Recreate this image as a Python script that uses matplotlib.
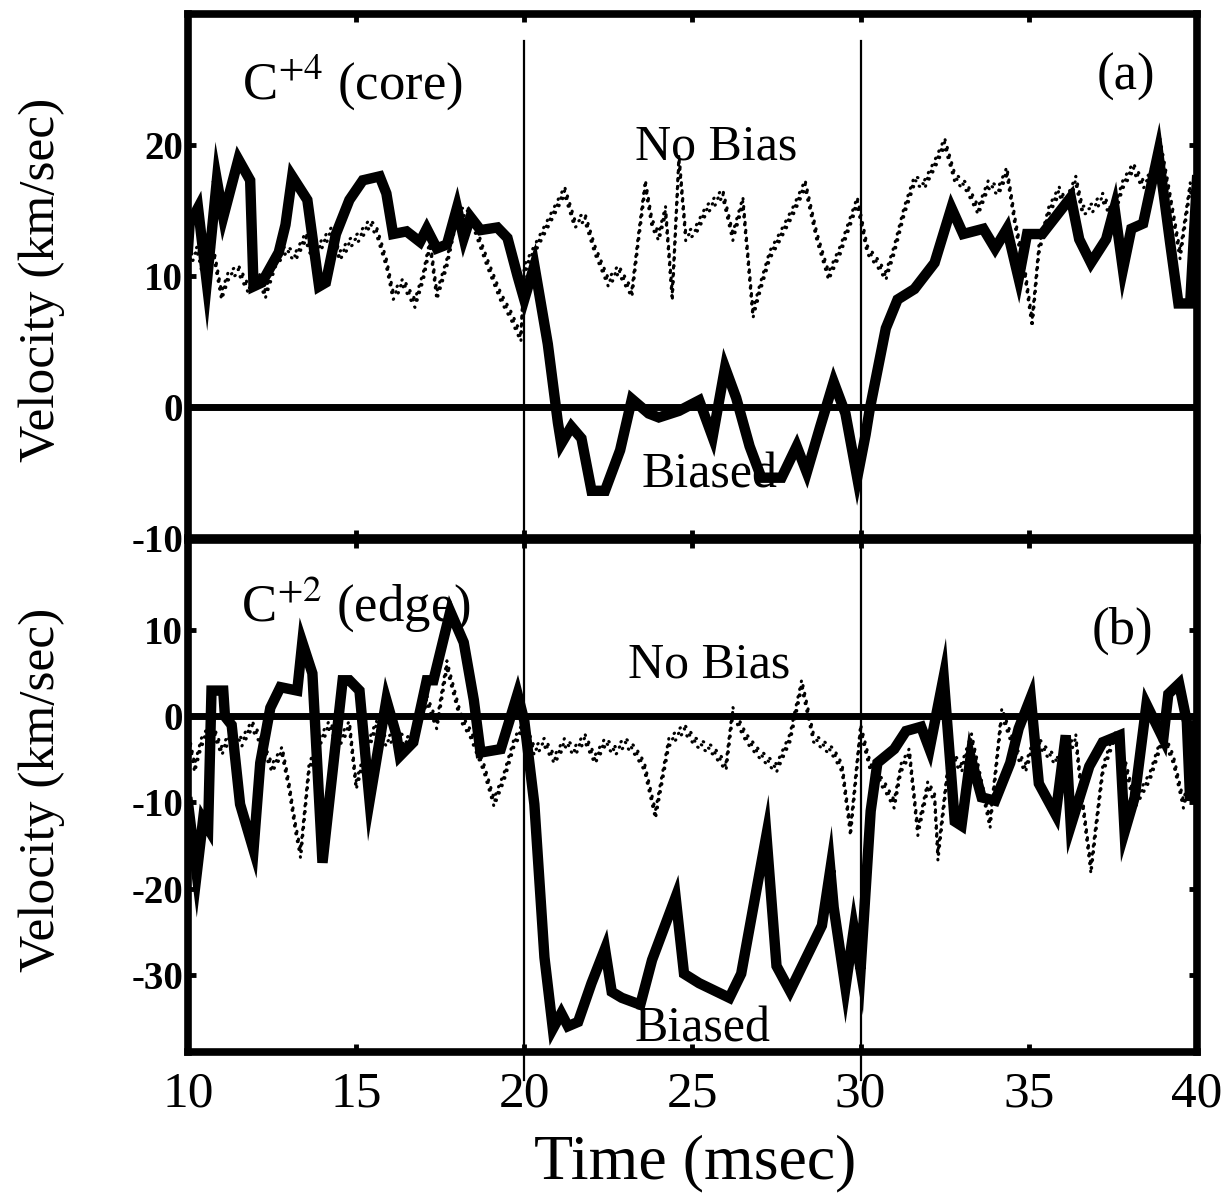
import matplotlib
matplotlib.use("Agg")
import matplotlib.pyplot as plt
from matplotlib.transforms import offset_copy

plt.rcParams['font.family'] = ['Liberation Serif', 'DejaVu Serif']
plt.rcParams['mathtext.fontset'] = 'stix'
plt.rcParams['axes.unicode_minus'] = False

# (a) C+4 core -- biased (solid) and no-bias (dotted) traces
core_bias_t = [10.0, 10.05, 10.3, 10.56, 10.86, 11.05, 11.5, 11.85, 11.95, 12.2, 12.7, 12.9, 13.1,
               13.55, 13.9, 14.1, 14.4, 14.8, 15.2, 15.7, 15.9, 16.1, 16.5, 16.9, 17.1, 17.4, 17.7,
               18.0, 18.2, 18.4, 18.7, 19.2, 19.5, 19.8, 20.0, 20.3, 20.7, 21.0, 21.1, 21.4, 21.7,
               22.0, 22.4, 22.85, 23.2, 23.7, 24.0, 24.6, 25.2, 25.6, 25.97, 26.3, 26.7, 27.05,
               27.65, 28.1, 28.4, 28.8, 29.2, 29.55, 29.9, 30.15, 30.27, 30.75, 31.1, 31.6, 32.2,
               32.7, 33.05, 33.65, 34.0, 34.35, 34.7, 34.95, 35.4, 36.25, 36.5, 36.85, 37.3, 37.55,
               37.8, 38.05, 38.4, 38.85, 39.2, 39.45, 39.8, 40.0]
core_bias_v = [12, 14, 15.2, 9.5, 17.3, 14.5, 18.9, 17.3, 9.2, 9.5, 11.8, 13.9, 17.6,
               15.8, 9.2, 9.5, 13.2, 15.8, 17.3, 17.6, 16.3, 13.2, 13.4, 12.6, 13.6, 12.1, 12.4,
               15.2, 12.9, 14.5, 13.5, 13.7, 12.9, 10, 8.2, 10.8, 4.8, -1.2, -2.8, -1.5, -2.4,
               -6.4, -6.4, -3.3, 0.6, -0.5, -0.8, -0.3, 0.5, -2.3, 3, 0.7, -3, -5.4,
               -5.4, -3, -5, -1.5, 1.9, -0.5, -5.4, -2.1, -0.2, 6, 8.2, 9, 11,
               15.2, 13.2, 13.6, 12.1, 13.6, 9.8, 13.2, 13.2, 16, 12.8, 11, 12.8, 15.2,
               10.5, 13.6, 14, 19.4, 12.6, 7.9, 7.9, 17.3]

core_nobias_t = [10.0, 10.3, 10.5, 10.75, 11.0, 11.2, 11.5, 11.8, 12.1, 12.3, 12.6, 12.9, 13.2, 13.5,
                 13.7, 14.0, 14.3, 14.5, 14.8, 15.1, 15.4, 15.6, 15.9, 16.1, 16.4, 16.75, 17.0, 17.2,
                 17.4, 17.7, 18.0, 18.3, 18.5, 18.9, 19.3, 19.6, 19.9,
                 20.0, 20.3, 20.6, 20.9, 21.2, 21.5, 21.8, 22.1, 22.5, 22.8, 23.2, 23.4, 23.6, 23.8,
                 24.0, 24.2, 24.4, 24.6, 24.8, 25.1, 25.4, 25.9, 26.2, 26.5, 26.8, 27.0, 27.3, 27.6,
                 28.0, 28.35, 28.7, 29.05, 29.4, 29.9, 30.2, 30.5, 30.75, 31.0, 31.3, 31.6, 31.9,
                 32.2, 32.5, 32.8, 33.15, 33.5, 33.8, 34.1, 34.35, 34.6, 34.9, 35.1, 35.3, 35.6,
                 35.9, 36.1, 36.4, 36.6, 36.9, 37.2, 37.5, 37.8, 38.1, 38.4, 38.6, 38.9, 39.2, 39.5,
                 39.8, 40.0]
core_nobias_v = [11, 12, 9.5, 12, 8.5, 10, 10.5, 9, 10, 8.6, 11, 12, 11.5, 13,
                 11.5, 12.5, 13.5, 11.5, 12.5, 13, 14, 13.5, 11, 8.5, 9.5, 7.9, 10, 12.5,
                 8.5, 11, 14.7, 15, 13.9, 11, 8.4, 7, 5.3,
                 10.5, 12, 13.5, 15, 16.5, 14, 14.5, 12, 9.5, 10.5, 8.7, 13, 17, 14,
                 13, 15, 8.4, 19, 13, 13.5, 15, 16.3, 13, 15.7, 7.1, 9, 11.6, 13,
                 15, 17, 13, 10, 12, 15.7, 12, 11, 10, 12, 15, 17.3, 17,
                 18.5, 20.2, 17.5, 16.8, 15, 17, 16.5, 18, 14, 10, 6.4, 12, 15,
                 16.5, 15.5, 17.3, 15, 15.2, 16, 14.5, 17, 18.3, 17, 17.5, 20.2, 16, 11.6,
                 16.8, 15]

# (b) C+2 edge
edge_bias_t = [10.0, 10.26, 10.45, 10.6, 10.7, 11.05, 11.1, 11.3, 11.55, 11.95, 12.15, 12.45, 12.75,
               13.25, 13.4, 13.7, 14.0, 14.6, 14.8, 15.1, 15.4, 15.9, 16.2, 16.3, 16.7, 17.1, 17.3,
               17.8, 18.2, 18.5, 18.7, 19.3, 19.8, 20.0, 20.3, 20.6, 20.85, 21.1, 21.3, 21.6, 22.0,
               22.4, 22.6, 22.9, 23.45, 23.8, 24.5, 24.75, 25.2, 26.1, 26.45, 27.2, 27.5, 27.9,
               28.35, 28.85, 29.1, 29.2, 29.55, 29.8, 30.0, 30.3, 30.5, 31.0, 31.35, 31.8, 32.05,
               32.47, 32.8, 33.0, 33.27, 33.6, 34.0, 34.45, 34.7, 35.06, 35.3, 35.8, 36.1, 36.25,
               36.8, 37.2, 37.7, 37.85, 38.15, 38.5, 39.0, 39.15, 39.47, 39.7, 39.8, 40.0]
edge_bias_v = [-10, -18.3, -12, -13, 3, 3, 0, -1, -10.2, -15.5, -5.4, 1, 3.4,
               3, 8.6, 5, -17, 4.2, 4.2, 3, -9.8, 1.9, -2.2, -4.6, -3, 4.2, 4.2,
               12.2, 8.6, 1.9, -4.2, -3.8, 2.6, -0.5, -10.2, -28, -36.3, -34.5, -36, -35.5, -31,
               -27, -32, -32.7, -33.5, -28.3, -21, -29.9, -31, -32.7, -29.9, -13.8, -29, -31.9,
               -28.3, -24.3, -17.8, -22.2, -31.5, -24.7, -29.4, -11, -5.4, -3.8, -1.7, -1.2, -3.8,
               4.6, -12.2, -12.7, -4.7, -9.4, -9.8, -5.4, -1.4, 2.2, -7.8, -11.4, -2.2, -12.7,
               -5.8, -3, -2.2, -13.4, -9.4, 1.4, -2.6, 2.6, 3.8, -0.6, -9.8, -1]

edge_nobias_t = [10.0, 10.2, 10.4, 10.7, 11.0, 11.3, 11.6, 11.9, 12.2, 12.5, 12.8, 13.0, 13.2, 13.35,
                 13.6, 13.9, 14.2, 14.5, 14.8, 15.0, 15.3, 15.6, 15.9, 16.2, 16.5, 16.8, 17.1, 17.4,
                 17.7, 17.9, 18.1, 18.4, 18.8, 19.1, 19.4, 19.7, 20.0,
                 20.3, 20.6, 20.9, 21.2, 21.5, 21.8, 22.1, 22.4, 22.7, 23.0, 23.3, 23.57, 23.9, 24.3,
                 24.75, 25.1, 25.6, 26.0, 26.2, 26.6, 26.95, 27.5, 27.9, 28.25, 28.6, 29.2, 29.45,
                 29.7, 30.0, 30.3, 30.7, 31.0, 31.2, 31.45, 31.7, 32.0, 32.2, 32.3, 32.65, 33.0,
                 33.3, 33.6, 33.85, 34.2, 34.6, 34.9, 35.2, 35.5, 35.9, 36.4, 36.6, 36.85, 37.2,
                 37.55, 37.9, 38.15, 38.6, 39.0, 39.3, 39.6, 40.0]
edge_nobias_v = [-2, -6, -3, -1, -4, -2, -3, -1, -3, -6, -4, -8, -13, -16,
                 -6, -3, -1, -3, -1, -8, -4, -1, -3, -2, -3, -1.5, 2, -1,
                 6, 3, 0, -2, -6, -10, -7, -3, -1,
                 -4, -3, -5, -3, -4, -2.5, -5, -3, -4, -3, -4, -5.8, -11.4, -3,
                 -1.4, -3, -3.9, -5.8, 0.6, -2.5, -4.2, -6, -2.5, 3.8, -2.5, -4.2, -6,
                 -13.4, -1.4, -6, -8, -10.2, -6, -4.2, -13.4, -8, -9.4, -16.3, -4.2, -6,
                 -2.5, -8, -12.5, 0.5, -3.9, -6, -2.5, -4, -5.4, -2.6, -10, -17.8, -6.2,
                 -2.2, -6, -10.2, -7, -2.2, -5, -10.2, -3.9]

time_ticks = [10, 15, 20, 25, 30, 35, 40]

fig = plt.figure(figsize=(12.3, 12), dpi=100)
ax1 = fig.add_axes([0.1528, 0.5517, 0.8203, 0.4367])
ax2 = fig.add_axes([0.1528, 0.1233, 0.8203, 0.4267])

for ax in (ax1, ax2):
    ax.set_xlim(10, 40)
    ax.set_xticks(time_ticks)
    for s in ax.spines.values():
        s.set_linewidth(5.5)
    ax.tick_params(direction='in', length=6, width=3.5, top=True, right=True)
    ax.axhline(0, color='black', lw=5, zorder=2)

ax1.set_ylim(-10, 30)
ax1.set_yticks([-10, 0, 10, 20])
ax1.tick_params(labelbottom=False)
ax2.set_ylim(-39, 20.5)
ax2.set_yticks([-30, -20, -10, 0, 10])

for ax in (ax1, ax2):
    for lab in ax.get_yticklabels():
        lab.set_fontsize(28)
        lab.set_fontweight('bold')
ax2.tick_params(axis='x', labelsize=37, pad=14)

# reference lines at bias on/off
for t in (20, 30):
    ax1.axvline(t, ymin=0, ymax=0.948, color='black', lw=1.6, zorder=1)
    ax2.axvline(t, ymin=-0.055, ymax=1, color='black', lw=1.6, zorder=1, clip_on=False)


def stipple(ax, t, v):
    # no-bias trace drawn as a band of dots, like the halftoned original
    for dy, off in [(-4.0, 0.0), (0.0, 1.3), (4.0, 0.6)]:
        tr = offset_copy(ax.transData, fig=fig, x=0, y=dy, units='dots')
        ax.plot(t, v, color='black', lw=2.2, linestyle=(off, (0.2, 2.4)),
                dash_capstyle='round', transform=tr, zorder=3)


stipple(ax1, core_nobias_t, core_nobias_v)
stipple(ax2, edge_nobias_t, edge_nobias_v)
ax1.plot(core_bias_t, core_bias_v, color='black', lw=7.5, solid_joinstyle='miter', zorder=4)
ax2.plot(edge_bias_t, edge_bias_v, color='black', lw=7.5, solid_joinstyle='miter', zorder=4)

ax1.text(14.9, 24.8, r'C$^{+4}$ (core)', fontsize=38, ha='center', va='center')
ax1.text(37.9, 25.2, '(a)', fontsize=38, ha='center', va='center')
ax1.text(25.7, 19.8, 'No Bias', fontsize=36, ha='center', va='center', zorder=5)
ax1.text(25.5, -5.2, 'Biased', fontsize=36, ha='center', va='center', zorder=2)

ax2.text(15.0, 13.1, r'C$^{+2}$ (edge)', fontsize=38, ha='center', va='center')
ax2.text(37.8, 10.0, '(b)', fontsize=38, ha='center', va='center')
ax2.text(25.5, 5.9, 'No Bias', fontsize=36, ha='center', va='center', zorder=5)
ax2.text(25.3, -36.3, 'Biased', fontsize=36, ha='center', va='center', zorder=5)

fig.text(42 / 1230, 1 - 280 / 1200, 'Velocity (km/sec)', fontsize=37, rotation=90,
         ha='center', va='center')
fig.text(42 / 1230, 1 - 790 / 1200, 'Velocity (km/sec)', fontsize=37, rotation=90,
         ha='center', va='center')
fig.text(695 / 1230, 1 - 1163 / 1200, 'Time (msec)', fontsize=46, ha='center', va='center')

fig.savefig('out.png', dpi=100)
